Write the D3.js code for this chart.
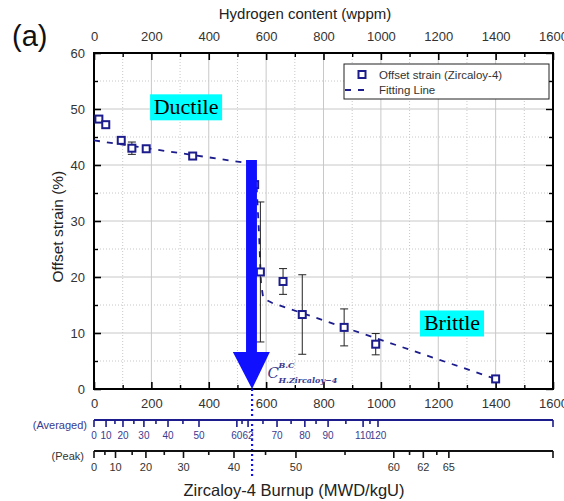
<!DOCTYPE html>
<html>
<head>
<meta charset="utf-8">
<script src="https://cdn.jsdelivr.net/npm/d3@7"></script>
<style>
    body { margin: 0; background: #fff; }
    svg { display: block; font-family: Arial, "Liberation Sans", sans-serif; }
</style>
</head>
<body>
<svg id="chart" width="564" height="501"></svg>
<script>
// measured points: hydrogen (wppm), offset strain (%), error bar half-width
const hydrogen = [17, 41, 95, 132, 182, 344, 560, 580, 659, 726, 872, 982, 1400];
const strain   = [48.2, 47.2, 44.4, 43.0, 42.9, 41.6, 36.5, 20.9, 19.2, 13.3, 11.0, 8.0, 1.8];
const errBar   = [0, 0, 0, 1.1, 0, 0, 0, 12.5, 2.3, 7.1, 3.3, 1.9, 0];

// fitting line
const fitH = [0, 540, 556, 566, 575, 582, 590, 620, 1400];
const fitS = [44.4, 40.3, 39.6, 37.0, 28.0, 19.0, 16.2, 15.4, 1.8];

// burnup scales, position given as hydrogen content (wppm)
const avgBurnup = [0, 10, 15, 20, 25, 30, 35, 40, 45, 50, 60, 61, 62, 65, 70, 75, 80, 85, 90, 100, 110, 115, 120];
const avgPos    = [0, 42, 73, 101, 139, 174, 216, 258, 310, 366, 498, 516, 537, 589, 638, 687, 735, 774, 816, 878, 938, 962, 990];
const avgLabels = [0, 10, 20, 30, 40, 50, 60, 62, 70, 80, 90, 110, 120];

const peakBurnup = [0, 5, 10, 15, 20, 25, 30, 35, 40, 45, 50, 55, 60, 61, 62, 64, 65];
const peakPos    = [0, 38, 75, 133, 181, 245, 312, 400, 488, 598, 704, 875, 1045, 1100, 1148, 1195, 1237];
const peakLabels = [0, 10, 20, 30, 40, 50, 60, 62, 65];

const hTicks = [0, 200, 400, 600, 800, 1000, 1200, 1400, 1600];
const sTicks = [0, 10, 20, 30, 40, 50, 60];

const navy = '#1c1c8c';
const blue = '#1010ff';
const margin = { left: 94, right: 553, top: 53, bottom: 389 };

const svg = d3.select('#chart');
const x = d3.scaleLinear().domain([0, 1600]).range([margin.left, margin.right]);
const y = d3.scaleLinear().domain([0, 60]).range([margin.bottom, margin.top]);
const fmt = d3.format('d');

// grid
const g = svg.append('g');
g.selectAll('.gx').data(d3.range(100, 1600, 100)).enter().append('line')
    .attr('x1', d => x(d)).attr('x2', d => x(d))
    .attr('y1', margin.top).attr('y2', margin.bottom)
    .attr('stroke', '#c8c8c8').attr('stroke-width', 1)
    .attr('stroke-dasharray', d => (d % 200 ? '1,2' : null));
g.selectAll('.gy').data(d3.range(5, 60, 5)).enter().append('line')
    .attr('y1', d => y(d)).attr('y2', d => y(d))
    .attr('x1', margin.left).attr('x2', margin.right)
    .attr('stroke', '#c8c8c8').attr('stroke-width', 1)
    .attr('stroke-dasharray', d => (d % 10 ? '1,2' : null));

// axes with inward ticks
const tickStyle = sel => {
    sel.select('.domain').remove();
    sel.selectAll('.tick line').attr('stroke', '#000').attr('stroke-width', 1.6);
    sel.selectAll('.tick text').attr('fill', '#333').attr('font-size', 13);
};
const minorStyle = sel => {
    sel.select('.domain').remove();
    sel.selectAll('.tick line').attr('stroke', '#000').attr('stroke-width', 1.4);
    sel.selectAll('.tick text').remove();
};

svg.append('g').attr('transform', `translate(0,${margin.bottom})`)
    .call(d3.axisBottom(x).tickValues(hTicks).tickFormat(fmt).tickSizeInner(-7).tickSizeOuter(0).tickPadding(10))
    .call(tickStyle);
svg.append('g').attr('transform', `translate(0,${margin.bottom})`)
    .call(d3.axisBottom(x).tickValues(d3.range(100, 1600, 200)).tickSize(-4))
    .call(minorStyle);
svg.append('g').attr('transform', `translate(0,${margin.top})`)
    .call(d3.axisTop(x).tickValues(hTicks).tickFormat(fmt).tickSizeInner(-7).tickSizeOuter(0).tickPadding(12))
    .call(tickStyle);
svg.append('g').attr('transform', `translate(0,${margin.top})`)
    .call(d3.axisTop(x).tickValues(d3.range(100, 1600, 200)).tickSize(-4))
    .call(minorStyle);
svg.append('g').attr('transform', `translate(${margin.left},0)`)
    .call(d3.axisLeft(y).tickValues(sTicks).tickSizeInner(-7).tickSizeOuter(0).tickPadding(9))
    .call(tickStyle);
svg.append('g').attr('transform', `translate(${margin.left},0)`)
    .call(d3.axisLeft(y).tickValues(d3.range(5, 60, 10)).tickSize(-4))
    .call(minorStyle);
svg.append('g').attr('transform', `translate(${margin.right},0)`)
    .call(d3.axisRight(y).tickValues(sTicks).tickSize(-7))
    .call(minorStyle);
svg.append('g').attr('transform', `translate(${margin.right},0)`)
    .call(d3.axisRight(y).tickValues(d3.range(5, 60, 10)).tickSize(-4))
    .call(minorStyle);

svg.append('rect')
    .attr('x', margin.left).attr('y', margin.top)
    .attr('width', margin.right - margin.left).attr('height', margin.bottom - margin.top)
    .attr('fill', 'none').attr('stroke', '#000').attr('stroke-width', 2);

// fitting line
const fit = fitH.map((h, i) => [h, fitS[i]]);
svg.append('path').datum(fit)
    .attr('d', d3.line().x(d => x(d[0])).y(d => y(d[1])))
    .attr('fill', 'none').attr('stroke', navy).attr('stroke-width', 1.8)
    .attr('stroke-dasharray', '6,7');

// error bars
const pts = hydrogen.map((h, i) => ({ h, s: strain[i], e: errBar[i] }));
const eb = svg.append('g').selectAll('g').data(pts.filter(d => d.e > 0)).enter().append('g')
    .attr('stroke', '#222').attr('stroke-width', 1);
eb.append('line').attr('x1', d => x(d.h)).attr('x2', d => x(d.h))
    .attr('y1', d => y(d.s - d.e)).attr('y2', d => y(d.s + d.e));
eb.append('line').attr('x1', d => x(d.h) - 4).attr('x2', d => x(d.h) + 4)
    .attr('y1', d => y(d.s - d.e)).attr('y2', d => y(d.s - d.e));
eb.append('line').attr('x1', d => x(d.h) - 4).attr('x2', d => x(d.h) + 4)
    .attr('y1', d => y(d.s + d.e)).attr('y2', d => y(d.s + d.e));

// markers
svg.append('g').selectAll('rect').data(pts).enter().append('rect')
    .attr('x', d => x(d.h) - 3.5).attr('y', d => y(d.s) - 3.5)
    .attr('width', 7).attr('height', 7)
    .attr('fill', '#fff').attr('stroke', navy).attr('stroke-width', 2);

// ductile / brittle labels
const tag = (label, cx, cy, w) => {
    svg.append('rect').attr('x', cx - w / 2).attr('y', cy - 13).attr('width', w).attr('height', 26).attr('fill', '#00ffff');
    svg.append('text').attr('x', cx).attr('y', cy + 7).attr('text-anchor', 'middle')
        .attr('font-family', '"Liberation Serif", "DejaVu Serif", serif').attr('font-size', 22)
        .attr('fill', '#000').text(label);
};
tag('Ductile', x(321), y(50.3), 72);
tag('Brittle', x(1248), y(11.7), 64);

// big arrow at the transition
const arrow = [
    [530, 40.9], [568, 40.9], [568, 6.6], [613, 6.6], [551, 0], [484, 6.6], [530, 6.6]
];
svg.append('path').datum(arrow)
    .attr('d', d3.line().x(d => x(d[0])).y(d => y(d[1])).curve(d3.curveLinearClosed))
    .attr('fill', blue);

svg.append('line')
    .attr('x1', x(551)).attr('x2', x(551)).attr('y1', y(0)).attr('y2', 476)
    .attr('stroke', blue).attr('stroke-width', 2.2).attr('stroke-dasharray', '2,3');

// C^{B.C}_{H.Zircaloy-4}
const cl = svg.append('g').attr('fill', '#3a3a8e')
    .attr('font-family', '"DejaVu Serif", serif').attr('font-style', 'italic');
cl.append('text').attr('x', x(605)).attr('y', y(1.9)).attr('font-size', 15).text('C');
cl.append('text').attr('x', x(605) + 11).attr('y', y(3.8)).attr('font-size', 8).attr('font-weight', 'bold').text('B.C');
cl.append('text').attr('x', x(605) + 11).attr('y', y(1.1)).attr('font-size', 8).attr('font-weight', 'bold').text('H.Zircaloy\u22124');

// legend
const lg = svg.append('g').attr('transform', 'translate(344,64)');
lg.append('rect').attr('width', 205).attr('height', 35).attr('fill', '#fff').attr('stroke', '#222').attr('stroke-width', 1);
lg.append('rect').attr('x', 14.5).attr('y', 7).attr('width', 7).attr('height', 7)
    .attr('fill', '#fff').attr('stroke', navy).attr('stroke-width', 2);
lg.append('line').attr('x1', 1).attr('x2', 25).attr('y1', 26).attr('y2', 26)
    .attr('stroke', navy).attr('stroke-width', 1.8).attr('stroke-dasharray', '6,7');
lg.append('text').attr('x', 35).attr('y', 14.5).attr('font-size', 11.5).attr('fill', '#333').text('Offset strain (Zircaloy-4)');
lg.append('text').attr('x', 35).attr('y', 30).attr('font-size', 11.5).attr('fill', '#333').text('Fitting Line');

// titles
svg.append('text').attr('x', 12).attr('y', 46).attr('font-size', 29).attr('fill', '#111').text('(a)');
svg.append('text').attr('x', 305).attr('y', 19).attr('text-anchor', 'middle').attr('font-size', 15).attr('fill', '#222')
    .text('Hydrogen content (wppm)');
svg.append('text').attr('transform', `translate(63,${y(29)}) rotate(-90)`).attr('text-anchor', 'middle')
    .attr('font-size', 15.5).attr('fill', '#222').text('Offset strain (%)');

// burnup axes drawn against the hydrogen scale
const avgY = 420;
svg.append('line').attr('x1', margin.left).attr('x2', margin.right).attr('y1', avgY).attr('y2', avgY)
    .attr('stroke', navy).attr('stroke-width', 2);
svg.append('g').selectAll('line').data(avgBurnup.map((b, i) => ({ b, p: avgPos[i] })).concat([{ b: -1, p: 1600 }])).enter()
    .append('line')
    .attr('x1', d => x(d.p)).attr('x2', d => x(d.p))
    .attr('y1', avgY).attr('y2', d => avgY + (avgLabels.includes(d.b) || d.b < 0 ? 7 : 4))
    .attr('stroke', navy).attr('stroke-width', 1.6);
svg.append('g').selectAll('text').data(avgLabels).enter().append('text')
    .attr('x', d => x(avgPos[avgBurnup.indexOf(d)]))
    .attr('y', avgY + 19).attr('text-anchor', 'middle')
    .attr('font-size', 10).attr('fill', '#3a3a8e').text(d => d);
svg.append('text').attr('x', 87).attr('y', avgY + 9).attr('text-anchor', 'end')
    .attr('font-size', 11).attr('fill', '#3a3a8e').text('(Averaged)');

const peakY = 451;
svg.append('line').attr('x1', margin.left).attr('x2', margin.right).attr('y1', peakY).attr('y2', peakY)
    .attr('stroke', '#111').attr('stroke-width', 2);
svg.append('g').selectAll('line').data(peakBurnup.map((b, i) => ({ b, p: peakPos[i] })).concat([{ b: -1, p: 1600 }])).enter()
    .append('line')
    .attr('x1', d => x(d.p)).attr('x2', d => x(d.p))
    .attr('y1', peakY).attr('y2', d => peakY + (peakLabels.includes(d.b) || d.b < 0 ? 7 : 4))
    .attr('stroke', '#111').attr('stroke-width', 1.6);
svg.append('g').selectAll('text').data(peakLabels).enter().append('text')
    .attr('x', d => x(peakPos[peakBurnup.indexOf(d)]))
    .attr('y', peakY + 20).attr('text-anchor', 'middle')
    .attr('font-size', 11).attr('fill', '#333').text(d => d);
svg.append('text').attr('x', 84).attr('y', peakY + 9).attr('text-anchor', 'end')
    .attr('font-size', 11).attr('fill', '#333').text('(Peak)');

svg.append('text').attr('x', 294).attr('y', 496).attr('text-anchor', 'middle')
    .attr('font-size', 16.5).attr('fill', '#222').text('Zircaloy-4 Burnup (MWD/kgU)');
</script>
</body>
</html>
